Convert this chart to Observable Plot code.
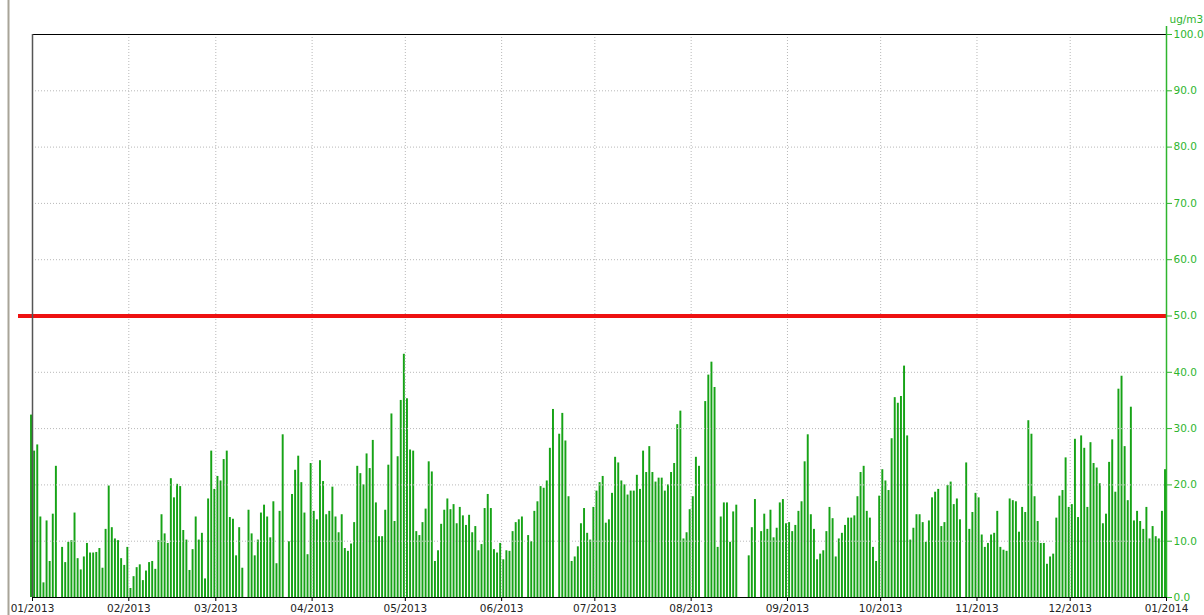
<!DOCTYPE html>
<html>
<head>
<meta charset="utf-8">
<script src="https://cdn.jsdelivr.net/npm/d3@7"></script>
<script src="https://cdn.jsdelivr.net/npm/@observablehq/plot@0.6"></script>
<style>
  html, body { margin: 0; padding: 0; background: #ffffff; }
  #chart { width: 1204px; height: 615px; }
</style>
</head>
<body>
<div id="chart"></div>
<script>
// Daily concentration values (ug/m3), one array per month; null = no measurement
const jan2013 = [32.4, 26.0, 27.1, 14.3, 2.6, 13.6, 6.4, 14.8, 23.3, null, 8.9, 6.2, 9.8, 10.1, 15.0, 6.9, 4.9, 7.2, 9.6, 7.9, 7.9, 8.0, 8.7, 5.2, 12.1, 19.8, 12.4, 10.4, 10.1, 6.9, 5.7];
const feb2013 = [8.9, 1.6, 3.7, 5.3, 5.8, 3.0, 4.7, 6.2, 6.4, 5.0, 10.1, 14.7, 11.3, 9.6, 21.1, 17.7, 20.1, 19.7, 11.9, 10.2, 4.8, 8.5, 14.3, 10.2, 11.4, 3.3, 17.5, 26.0];
const mar2013 = [19.2, 21.5, 20.7, 24.5, 26.0, 14.2, 13.9, 7.4, 12.4, 5.2, null, 15.5, 11.3, 7.4, 10.2, 15.0, 16.4, 14.3, 10.6, 17.0, 6.0, 15.3, 28.9, null, 9.9, 18.3, 22.6, 25.1, 20.4, 15.0, 7.6];
const apr2013 = [23.8, 15.3, 13.8, 24.3, 20.6, 14.7, 15.3, 19.6, 14.3, 11.5, 14.7, 8.7, 8.2, 9.5, 13.3, 23.3, 22.0, 20.0, 25.5, 22.9, 27.9, 16.8, 10.8, 10.8, 15.5, 23.5, 32.6, 13.5, 25.0, 35.0];
const may2013 = [43.2, 35.3, 26.2, 26.0, 11.7, 11.0, 13.3, 15.7, 24.1, 22.3, 6.4, 8.3, 13.0, 15.5, 17.5, 15.6, 16.5, 13.1, 16.0, 14.5, 12.8, 14.6, 11.5, 12.6, 8.3, 9.4, 15.8, 18.3, 15.8, 8.5, 7.9];
const jun2013 = [9.6, 6.7, 8.3, 8.2, 11.7, 13.3, 13.8, 14.3, null, 11.0, 9.9, 15.3, 17.0, 19.7, 19.4, 20.7, 26.5, 33.4, null, 29.0, 32.7, 27.8, 17.9, 6.4, 7.2, 9.0, 13.1, 15.8, 11.4, 10.2];
const jul2013 = [16.0, 18.9, 20.4, 21.5, 13.2, 13.8, 18.5, 24.9, 23.9, 20.7, 20.0, 18.2, 18.9, 18.9, 21.7, 19.2, 26.0, 22.2, 26.8, 22.2, 20.5, 21.2, 21.2, 18.9, 20.0, 22.2, 23.8, 30.7, 33.1, 10.4, 11.5];
const aug2013 = [15.6, 17.9, 24.9, 23.3, null, 34.8, 39.5, 41.8, 37.3, 8.9, 14.3, 16.8, 16.8, 9.8, 15.2, 16.4, null, null, null, 7.4, 12.4, 17.4, null, 11.7, 14.8, 12.1, 15.5, 10.6, 12.3, 16.8, 17.4];
const sep2013 = [13.1, 13.3, 11.7, 12.8, 15.3, 17.0, 24.1, 28.9, 14.7, 12.1, 6.7, 7.7, 8.3, 11.7, 16.0, 14.0, 7.2, 10.4, 11.4, 12.8, 14.1, 14.1, 14.5, 17.9, 22.2, 23.3, 15.3, 14.1, 8.9, 6.4];
const oct2013 = [18.0, 22.7, 20.7, 19.0, 28.2, 35.5, 34.5, 35.7, 41.1, 28.7, 10.2, 12.3, 14.7, 14.7, 13.3, 9.8, 13.6, 17.7, 18.7, 19.2, 12.6, 13.3, 19.9, 20.5, 16.5, 17.5, 13.8, null, 23.9, 12.1, 15.1];
const nov2013 = [18.5, 17.7, 11.1, 8.9, 9.6, 11.1, 11.4, 15.3, 8.9, 8.4, 8.2, 17.5, 17.2, 17.0, 11.6, 16.0, 15.1, 31.4, 29.0, 17.9, 13.5, 9.6, 9.6, 5.9, 7.2, 7.7, 14.1, 18.0, 19.0, 24.8];
const dec2013 = [16.0, 16.5, 28.1, 14.2, 28.7, 26.5, 16.0, 27.5, 23.8, 23.0, 20.2, 13.1, 14.8, 24.0, 28.0, 18.7, 37.0, 39.3, 26.8, 17.2, 33.8, 13.6, 15.3, 13.5, 12.1, 16.0, 10.4, 12.6, 10.8, 10.4, 15.3];
const jan2014 = [22.7];

const months = [jan2013, feb2013, mar2013, apr2013, may2013, jun2013, jul2013, aug2013, sep2013, oct2013, nov2013, dec2013, jan2014];
const startDate = new Date(Date.UTC(2013, 0, 1));
const endDate = new Date(Date.UTC(2014, 0, 1));
const limitValue = [50];
const yTicks = [0, 10, 20, 30, 40, 50, 60, 70, 80, 90, 100];
const unitLabel = ["ug/m3"];

// build table
const data = [];
months.forEach((arr, mi) => {
  arr.forEach((v, di) => {
    data.push({date: new Date(Date.UTC(2013, mi, di + 1)), value: v});
  });
});
const valid = data.filter(d => d.value != null);
const monthTicks = d3.utcMonth.range(startDate, d3.utcDay.offset(endDate, 1));

const green = "#2eb52e";
const barGreen = "#16a316";

const chart = Plot.plot({
  width: 1204,
  height: 615,
  marginLeft: 32,
  marginRight: 38,
  marginTop: 34,
  marginBottom: 18,
  x: {type: "utc", domain: [startDate, endDate]},
  y: {domain: [0, 100]},
  style: {fontFamily: "'DejaVu Sans', sans-serif", fontSize: "10.5px", background: "#ffffff", overflow: "visible"},
  marks: [
    Plot.rect(valid, {
      x1: d => d3.utcHour.offset(d.date, -15),
      x2: "date",
      y1: 0,
      y2: "value",
      fill: barGreen
    }),
    Plot.gridX(monthTicks.slice(1, -1), {stroke: "#b8b8b8", strokeOpacity: 1, strokeDasharray: "1,2"}),
    Plot.gridY(yTicks.slice(1, -1), {stroke: "#b8b8b8", strokeOpacity: 1, strokeDasharray: "1,2"}),
    Plot.ruleY(limitValue, {stroke: "#ee1111", strokeWidth: 4, insetLeft: -14}),
    Plot.ruleY([100], {stroke: "#000000"}),
    Plot.ruleY([0], {stroke: "#000000"}),
    Plot.ruleX([startDate], {stroke: "#555555", strokeWidth: 1.5}),
    Plot.ruleX([startDate], {dx: -24, stroke: "#a8a498", strokeWidth: 2, insetTop: -40, insetBottom: -20}),
    Plot.ruleX([endDate], {stroke: green, strokeWidth: 1.5, insetTop: -8}),
    Plot.axisX(monthTicks, {
      tickFormat: d3.utcFormat("%m/%Y"),
      tickSize: 4,
      tickPadding: 3,
      stroke: "#000000",
      fill: "#222222",
      label: null
    }),
    Plot.axisY(yTicks, {
      anchor: "right",
      tickSize: 5,
      tickPadding: 2,
      tickFormat: d => d.toFixed(1),
      stroke: green,
      fill: green,
      label: null
    }),
    Plot.text(unitLabel, {
      frameAnchor: "top-right",
      dx: 3,
      dy: -19,
      textAnchor: "start",
      fill: green,
      fontSize: 10.5
    })
  ]
});
document.getElementById("chart").appendChild(chart);
</script>
</body>
</html>
